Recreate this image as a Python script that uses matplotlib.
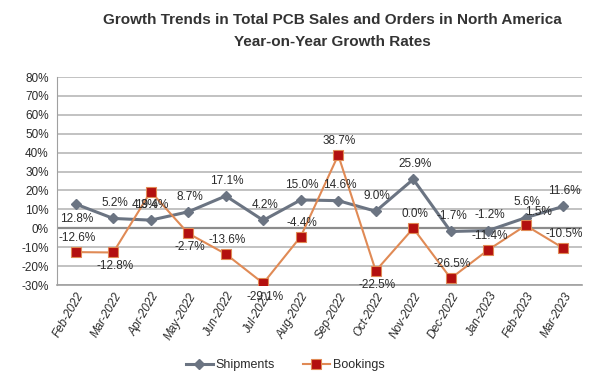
import matplotlib
matplotlib.use("Agg")
import numpy as np
from matplotlib import pyplot as plt
from matplotlib.ticker import FuncFormatter

# chart data
months = ["Feb-2022", "Mar-2022", "Apr-2022", "May-2022", "Jun-2022", "Jul-2022", "Aug-2022",
          "Sep-2022", "Oct-2022", "Nov-2022", "Dec-2022", "Jan-2023", "Feb-2023", "Mar-2023"]
shipments = [12.8, 5.2, 4.3, 8.7, 17.1, 4.2, 15.0, 14.6, 9.0, 25.9, -1.7, -1.2, 5.6, 11.6]
bookings = [-12.6, -12.8, 19.4, -2.7, -13.6, -29.1, -4.4, 38.7, -22.5, 0.0, -26.5, -11.4, 1.5, -10.5]

# label side: 1 = above the point, -1 = below
shipSide = [-1, 1, 1, 1, 1, 1, 1, 1, 1, 1, 1, 1, 1, 1]
bookSide = [1, -1, -1, -1, 1, -1, 1, 1, -1, 1, 1, 1, 1, 1]

plt.rcParams["font.family"] = ["Liberation Sans", "DejaVu Sans"]

shipColor = "#6b7482"
bookLine = "#e08a55"
bookMarker = "#b3100f"
textColor = "#2b2b2b"

fig = plt.figure(figsize=(6.03, 3.79), dpi=100)
ax = fig.add_axes([57 / 603, 1 - 285 / 379, 525 / 603, 208 / 379])

x = np.arange(len(months))

# grid lines
for v in range(-30, 81, 10):
    ax.axhline(v, color="#8c8c8c" if v == 0 else "#b8b8b8",
               linewidth=1.6 if v == 0 else 1.2, zorder=1)

ax.plot(x, shipments, color=shipColor, linewidth=2.2, marker="D", markersize=5,
        markerfacecolor=shipColor, markeredgecolor=shipColor, label="Shipments", zorder=3)
ax.plot(x, bookings, color=bookLine, linewidth=1.5, marker="s", markersize=7,
        markerfacecolor=bookMarker, markeredgecolor=bookLine, markeredgewidth=0.8,
        label="Bookings", zorder=4)

for i in range(len(months)):
    dy = 11 * shipSide[i]
    dx = -4 if i == 2 else 1
    ax.annotate(f"{shipments[i]:.1f}%", (x[i], shipments[i]), xytext=(dx, dy),
                textcoords="offset points", ha="center", va="center",
                fontsize=8.5, color=textColor, zorder=5)
    dy = 10 * bookSide[i]
    dx = 9 if i == 12 else 1
    ax.annotate(f"{bookings[i]:.1f}%", (x[i], bookings[i]), xytext=(dx, dy),
                textcoords="offset points", ha="center", va="center",
                fontsize=8.5, color=textColor, zorder=5)

ax.set_xlim(-0.5, len(months) - 0.5)
ax.set_ylim(-30, 80)
ax.set_yticks(range(-30, 81, 10))
ax.yaxis.set_major_formatter(FuncFormatter(lambda v, p: f"{v:.0f}%"))
ax.set_xticks(x)
ax.set_xticklabels(months, rotation=60, ha="right", rotation_mode="anchor",
                   fontsize=8.5, style="italic", color=textColor)
ax.tick_params(axis="y", length=0, labelsize=8.5, labelcolor=textColor, pad=6)
ax.tick_params(axis="x", length=0, pad=4)

for side in ["top", "right"]:
    ax.spines[side].set_visible(False)
ax.spines["left"].set_color("#a0a0a0")
ax.spines["bottom"].set_color("#a0a0a0")
ax.spines["bottom"].set_linewidth(1.2)

fig.text(332 / 603, 1 - 20 / 379, "Growth Trends in Total PCB Sales and Orders in North America",
         ha="center", va="center", fontsize=11, fontweight="bold", color="#333333")
fig.text(332 / 603, 1 - 42 / 379, "Year-on-Year Growth Rates",
         ha="center", va="center", fontsize=11, fontweight="bold", color="#333333")

fig.legend(loc="center", bbox_to_anchor=(285 / 603, 1 - 365 / 379), ncol=2, frameon=False,
           fontsize=9, handlelength=2.2, handletextpad=0.2, columnspacing=2.2,
           labelcolor=textColor)

fig.savefig("out.png", dpi=100)
